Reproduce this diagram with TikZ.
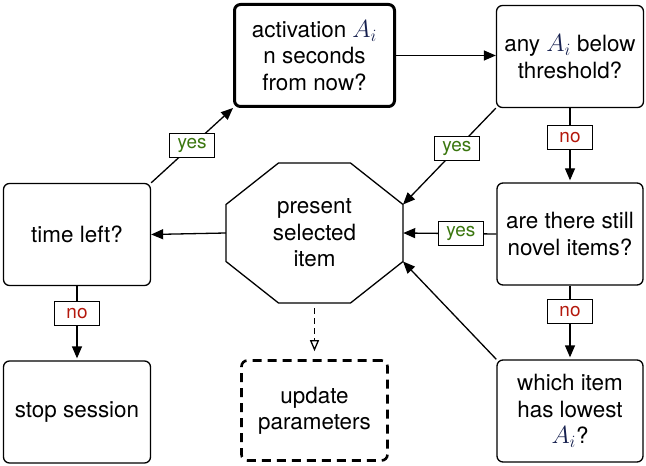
\documentclass[tikz,border=0pt]{standalone}
\usepackage{fontspec}
\usepackage{graphicx}
\setmainfont{TeX Gyre Heros}
\usetikzlibrary{arrows.meta,calc}
\definecolor{yesgreen}{RGB}{58,118,14}
\definecolor{nored}{RGB}{180,24,12}
\definecolor{mathblue}{RGB}{22,32,78}
\newcommand{\Ai}{\textcolor{mathblue}{\scalebox{1.2}{$A_i$}}}
\begin{document}
\begin{tikzpicture}[x=1bp,y=-1bp,
 box/.style={draw,rounded corners=6bp,line width=1.3bp,align=center,
   font=\fontsize{22.5}{26.5}\selectfont,inner sep=0,minimum width=147bp,minimum height=102bp},
 lbl/.style={draw,fill=white,line width=1bp,minimum width=45bp,minimum height=24bp,
   inner sep=0,font=\fontsize{19}{22}\selectfont},
 yes/.style={lbl,text=yesgreen},
 no/.style={lbl,text=nored},
 conn/.style={line width=1.3bp,-{Triangle[length=12bp,width=10bp]}},
]
\useasboundingbox (0,0) rectangle (646,466);

\node[box,line width=3bp,minimum width=160bp,minimum height=102bp] (act) at (314.5,55.5)
  {activation \Ai\\n seconds\\from now?};
\node[box] (any) at (570,56.5) {any \Ai\ below\\threshold?};
\node[box,minimum width=146bp] (novel) at (570,234) {are there still\\novel items?};
\node[box,minimum width=146bp] (which) at (570,411) {which item\\has lowest\\\Ai?};
\node[box] (time) at (77,234.5) {time left?};
\node[box] (stop) at (77,412) {stop session};
\node[box,line width=2.6bp,dash pattern=on 9bp off 6bp,minimum width=146bp,minimum height=100bp]
  (update) at (314.5,410.5) {update\\parameters};

\node[minimum width=177bp,minimum height=140bp,inner sep=0,align=center,
  font=\fontsize{22.5}{26.5}\selectfont] (oct) at (314.5,233) {present\\selected\\item};
\draw[line width=1.3bp]
  ($(oct.center)+(-36,-70)$) -- ($(oct.center)+(36,-70)$) --
  ($(oct.center)+(88.5,-28.5)$) -- ($(oct.center)+(88.5,28.5)$) --
  ($(oct.center)+(36,70)$) -- ($(oct.center)+(-36,70)$) --
  ($(oct.center)+(-88.5,28.5)$) -- ($(oct.center)+(-88.5,-28.5)$) -- cycle;
\coordinate (oNE) at ($(oct.center)+(88.5,-28.5)$);
\coordinate (oE) at (oct.east);
\coordinate (oSE) at ($(oct.center)+(88.5,28.5)$);
\coordinate (oW) at (oct.west);
\coordinate (oS) at (oct.south);

\draw[conn] (time.north east) -- (act.south west) node[yes,pos=0.5]{yes};
\draw[conn] (act.east) -- (act.east -| any.west);
\draw[conn] (any.south west) -- (oNE) node[yes,pos=0.42]{yes};
\draw[conn,shorten >=2bp] (any.south) -- (novel.north) node[no,pos=0.4]{no};
\draw[conn] (novel.west) -- (oE) node[yes,pos=0.38]{yes};
\draw[conn,shorten >=2bp] (novel.south) -- (which.north) node[no,pos=0.35]{no};
\draw[conn] (which.north west) -- (oSE);
\draw[conn] (oW) -- (time.east);
\draw[conn,shorten >=2bp] (time.south) -- (stop.north) node[no,pos=0.37]{no};
\draw[line width=1.3bp,dash pattern=on 6bp off 4bp,-{Triangle[open,length=11bp,width=9bp]},
  shorten <=5bp,shorten >=8bp] (oS) -- (update.north);
\end{tikzpicture}
\end{document}
